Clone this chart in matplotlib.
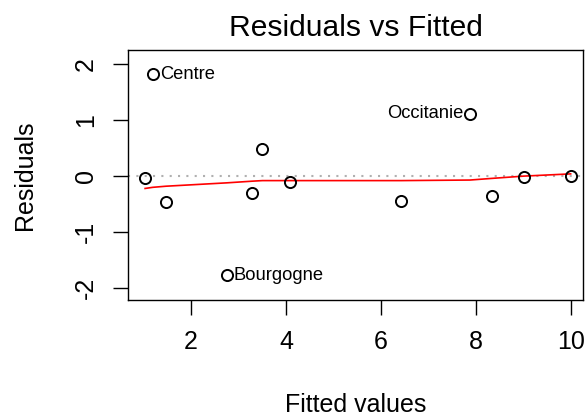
import matplotlib
matplotlib.use("Agg")
import matplotlib.pyplot as plt

plt.rcParams["font.family"] = ["Liberation Sans", "DejaVu Sans"]

# fitted values and residuals
fitted = [1.03, 1.19, 1.47, 2.75, 3.29, 3.50, 4.08, 6.42, 7.87, 8.34, 9.00, 9.99]
residuals = [-0.03, 1.82, -0.46, -1.77, -0.31, 0.49, -0.10, -0.44, 1.11, -0.36, -0.01, 0.00]

# smoother (red line) at the same fitted values
smooth = [-0.22, -0.20, -0.18, -0.12, -0.09, -0.08, -0.08, -0.08, -0.07, -0.04, 0.00, 0.04]

labels = {1: ("Centre", "right"), 3: ("Bourgogne", "right"), 8: ("Occitanie", "left")}

fig = plt.figure(figsize=(5.86, 4.16), dpi=100)
ax = fig.add_axes([128 / 586, 116 / 416, 455 / 586, 250 / 416])

ax.axhline(0, color="#b0b0b0", lw=1.5, linestyle=(0, (1, 3)), zorder=1)
ax.plot(fitted, smooth, color="red", lw=1.2, zorder=2)
ax.plot(fitted, residuals, linestyle="none", marker="o", markersize=8,
        markerfacecolor="none", markeredgecolor="black", markeredgewidth=1.4, zorder=3)

for idx, (name, side) in labels.items():
    if side == "right":
        ax.annotate(name, (fitted[idx], residuals[idx]), xytext=(5, 0),
                    textcoords="offset points", ha="left", va="center", fontsize=13.2)
    else:
        ax.annotate(name, (fitted[idx], residuals[idx]), xytext=(-5, 0),
                    textcoords="offset points", ha="right", va="center", fontsize=13.2)

ax.set_xlim(0.67, 10.25)
ax.set_ylim(-2.21, 2.25)
ax.set_xticks([2, 4, 6, 8, 10])
ax.set_yticks([-2, -1, 0, 1, 2])
ax.set_yticklabels(["-2", "-1", "0", "1", "2"], rotation=90, va="center")

ax.tick_params(direction="out", length=10.8, width=1, pad=10.8, labelsize=18)
for spine in ax.spines.values():
    spine.set_linewidth(1)

ax.set_xlabel("Fitted values", fontsize=18, va="center")
ax.xaxis.set_label_coords(0.5, -0.42)
ax.set_ylabel("Residuals", fontsize=18, va="center")
ax.yaxis.set_label_coords(-0.226, 0.5)

ax.set_title("Residuals vs Fitted", fontsize=21.6, y=1.088, va="center", pad=0)

fig.savefig("out.png", dpi=100)
